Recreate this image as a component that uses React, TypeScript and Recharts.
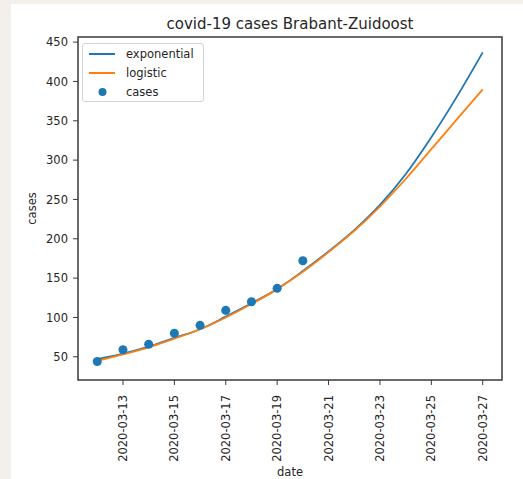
import React from 'react';
import {
  ComposedChart, Line, Scatter, XAxis, YAxis, ReferenceArea, Label,
} from 'recharts';

// matplotlib-ish palette
const COLORS = {
  exp: '#1f77b4',
  logi: '#ff7f0e',
  ink: '#262626',
  frame: '#3a3a3a',
  page: '#f3efea',
};

const FONT = '"DejaVu Sans", Verdana, sans-serif';

// days of March 2020
const days = [12, 13, 14, 15, 16, 17, 18, 19, 20, 21, 22, 23, 24, 25, 26, 27];
const exponential = [47, 54, 63, 74, 85, 101, 118, 136, 159, 184, 211, 243, 282, 329, 381, 437];
const logistic = [45, 53, 62, 73, 85, 100, 117, 136, 158, 183, 210, 241, 276, 314, 352, 390];

const caseDays = [12, 13, 14, 15, 16, 17, 18, 19, 20];
const cases = [44, 59, 66, 80, 90, 109, 120, 137, 172];

const xTicks = [13, 15, 17, 19, 21, 23, 25, 27];
const yTicks = [50, 100, 150, 200, 250, 300, 350, 400, 450];
const xDomain: [number, number] = [11.25, 27.75];
const yDomain: [number, number] = [20.5, 456.5];

const curveData = days.map((d, i) => ({ day: d, exponential: exponential[i], logistic: logistic[i] }));
const caseData = caseDays.map((d, i) => ({ day: d, cases: cases[i] }));

const dateLabel = (d: number) => `2020-03-${String(d).padStart(2, '0')}`;

function DateTick({ x, y, payload }: any) {
  return (
    <text
      x={x}
      y={y}
      dy="0.36em"
      transform={`rotate(-90, ${x}, ${y})`}
      textAnchor="end"
      fontSize={11.5}
      fontFamily={FONT}
      fill={COLORS.ink}
    >
      {dateLabel(payload.value)}
    </text>
  );
}

function ChartLegend() {
  const rows = [
    { name: 'exponential', kind: 'line', color: COLORS.exp },
    { name: 'logistic', kind: 'line', color: COLORS.logi },
    { name: 'cases', kind: 'dot', color: COLORS.exp },
  ];
  return (
    <div
      style={{
        position: 'absolute', left: 82, top: 43, width: 122, height: 59,
        boxSizing: 'border-box', border: '1px solid #d4d4d4', borderRadius: 3,
        background: 'rgba(255,255,255,0.85)', fontFamily: FONT, fontSize: 11.5, color: COLORS.ink,
      }}
    >
      {rows.map((r, i) => (
        <div key={r.name} style={{ position: 'absolute', left: 0, top: 1 + i * 19, height: 18, width: 120 }}>
          <svg width={40} height={18} style={{ position: 'absolute', left: 5, top: 0 }}>
            {r.kind === 'line'
              ? <line x1={1} x2={27} y1={9} y2={9} stroke={r.color} strokeWidth={2} />
              : <circle cx={14.5} cy={9} r={4} fill={r.color} />}
          </svg>
          <span style={{ position: 'absolute', left: 43, top: 1, lineHeight: '16px' }}>{r.name}</span>
        </div>
      ))}
    </div>
  );
}

export default function App() {
  return (
    <div style={{ position: 'absolute', left: 0, top: 0, width: 523, height: 479, background: COLORS.page, overflow: 'hidden' }}>
      <div style={{ position: 'absolute', left: 11, top: 4, right: 0, bottom: 0, background: '#fff' }} />
      <div
        style={{
          position: 'absolute', left: 78, width: 424, top: 14, textAlign: 'center',
          fontFamily: FONT, fontSize: 15, color: COLORS.ink, lineHeight: '20px',
        }}
      >
        covid-19 cases Brabant-Zuidoost
      </div>
      <div style={{ position: 'absolute', left: 0, top: 0 }}>
        <ComposedChart
          width={523}
          height={479}
          data={curveData}
          margin={{ top: 37, right: 21, bottom: 0, left: 18 }}
        >
          <XAxis
            dataKey="day"
            type="number"
            domain={xDomain}
            ticks={xTicks}
            allowDataOverflow
            height={99}
            axisLine={false}
            tickLine={{ stroke: COLORS.frame }}
            tickSize={5}
            tickMargin={10}
            tick={<DateTick />}
            interval={0}
          >
            <Label
              content={({ viewBox }: any) => (
                <text
                  x={viewBox.x + viewBox.width / 2}
                  y={476}
                  textAnchor="middle"
                  fontSize={11.5}
                  fontFamily={FONT}
                  fill={COLORS.ink}
                >
                  date
                </text>
              )}
            />
          </XAxis>
          <YAxis
            type="number"
            domain={yDomain}
            ticks={yTicks}
            allowDataOverflow
            width={60}
            axisLine={false}
            tickLine={{ stroke: COLORS.frame }}
            tickSize={5}
            tickMargin={5}
            tick={{ fontSize: 11.5, fontFamily: FONT, fill: COLORS.ink }}
            interval={0}
          >
            <Label
              content={() => (
                <text
                  x={32}
                  y={208.5}
                  dy="0.36em"
                  transform="rotate(-90, 32, 208.5)"
                  textAnchor="middle"
                  fontSize={11.5}
                  fontFamily={FONT}
                  fill={COLORS.ink}
                >
                  cases
                </text>
              )}
            />
          </YAxis>
          <Line
            type="monotone"
            dataKey="exponential"
            stroke={COLORS.exp}
            strokeWidth={1.8}
            dot={false}
            isAnimationActive={false}
          />
          <Line
            type="monotone"
            dataKey="logistic"
            stroke={COLORS.logi}
            strokeWidth={1.8}
            dot={false}
            isAnimationActive={false}
          />
          <Scatter data={caseData} dataKey="cases" fill={COLORS.exp} isAnimationActive={false} />
          <ReferenceArea
            x1={xDomain[0]}
            x2={xDomain[1]}
            y1={yDomain[0]}
            y2={yDomain[1]}
            fill="none"
            stroke={COLORS.frame}
            strokeWidth={1.5}
            ifOverflow="visible"
          />
        </ComposedChart>
      </div>
      <ChartLegend />
    </div>
  );
}
